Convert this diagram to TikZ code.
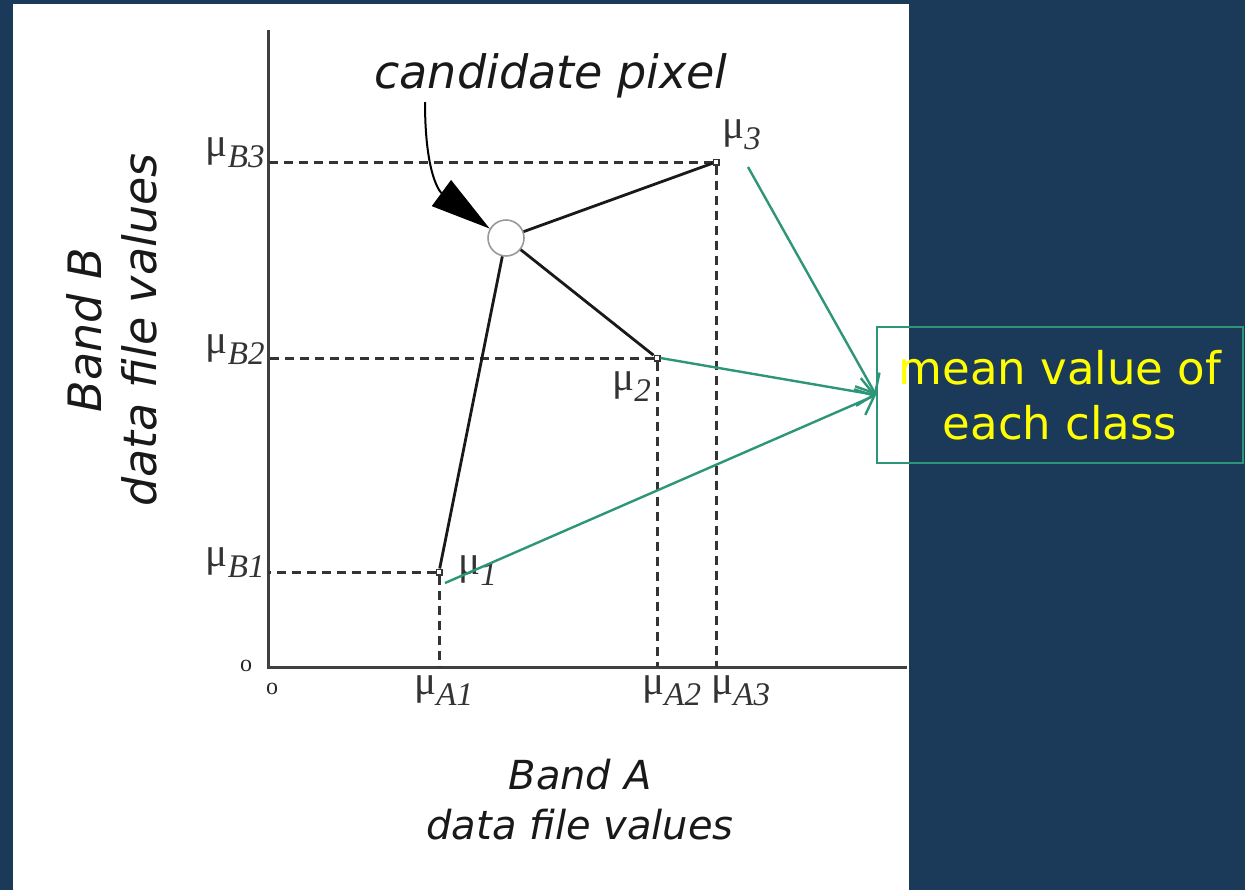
\documentclass[tikz,border=0pt]{standalone}
\usepackage{fontspec}
\setmainfont{Liberation Serif}
\setsansfont{DejaVu Sans}
\usetikzlibrary{arrows.meta}
\definecolor{navybg}{RGB}{27,58,90}
\definecolor{mgreen}{RGB}{46,150,120}
\definecolor{yellowtxt}{RGB}{255,255,0}
\newcommand{\mlab}[1]{{\fontsize{20.5}{22}\selectfont μ}\raisebox{-0.34em}{\itshape #1}}
\begin{document}
\begin{tikzpicture}[x=0.5pt,y=-0.5pt,
  axis/.style={line width=1.5pt, draw=black!75},
  guide/.style={line width=1.5pt, dash pattern=on 4.5pt off 3pt, draw=black!80},
  link/.style={line width=1.4pt, draw=black!90},
  pt/.style={draw=black!80, fill=white, inner sep=0pt, minimum size=2.8pt, line width=0.7pt},
  lab/.style={font=\fontsize{16.5}{18}\selectfont, inner sep=0pt, text=black!80},
  orig/.style={font=\fontsize{12}{14}\selectfont, inner sep=0pt, text=black!85},
  sflab/.style={font=\sffamily\itshape, text=black!90, align=center, inner sep=0pt},
  callout/.style={draw=mgreen, line width=1.2pt, -{Straight Barb[length=8pt,width=14pt,line width=1.2pt]}}]

\fill[navybg] (0,0) rectangle (1245,890);
\fill[white] (13,4) rectangle (909,890);

% axes
\coordinate (O) at (268,667);
\coordinate (Ytop) at (268,30);
\coordinate (Xend) at (907,667);
\draw[axis] (Ytop) -- (O) -- (Xend);
\node[orig] (o1) at (246,666) {o};
\node[orig] (o2) at (272,689) {o};

% class means
\node[pt] (p3) at (716,162) {};
\node[pt] (p2) at (657,358) {};
\node[pt] (p1) at (439,572) {};

% guide lines
\draw[guide] (p3.west) -- (p3.west -| O);
\draw[guide] (p3.south) -- (p3.south |- O);
\draw[guide] (p2.west) -- (p2.west -| O);
\draw[guide] (p2.south) -- (p2.south |- O);
\draw[guide] (p1.west) -- (p1.west -| O);
\draw[guide] (p1.south) -- (p1.south |- O);

% candidate pixel
\node[circle, draw=black!40, line width=0.8pt, minimum size=18pt, inner sep=0pt, fill=white] (cand) at (506,238) {};
\draw[link] (cand) -- (p3);
\draw[link] (cand) -- (p2);
\draw[link] (cand) -- (p1);

\node[sflab, font=\sffamily\itshape\fontsize{23}{27}\selectfont, anchor=base] (ctext) at (551,88) {candidate pixel};
\coordinate (cstart) at (425,102);
\draw[line width=1pt, -{Triangle[length=30pt,width=16pt]}] (cstart) .. controls (425,175) and (440,192) .. (cand.150);

% labels
\node[lab, anchor=base east] (lB3) at (265,156) {\mlab{B3}};
\node[lab, anchor=base east] (lB2) at (265,353) {\mlab{B2}};
\node[lab, anchor=base east] (lB1) at (265,566) {\mlab{B1}};
\node[lab, anchor=base west] (lA1) at (414,694) {\mlab{A1}};
\node[lab, anchor=base west] (lA2) at (642,694) {\mlab{A2}};
\node[lab, anchor=base west] (lA3) at (711,694) {\mlab{A3}};
\node[lab, anchor=base west] (l3) at (722,138) {\mlab{3}};
\node[lab, anchor=base west] (l2) at (612,390) {\mlab{2}};
\node[lab, anchor=base west] (l1) at (458,574) {\mlab{1}};

% axis titles
\node[sflab, font=\sffamily\itshape\fontsize{23}{27.5}\selectfont, rotate=90] (bandB) at (112,330) {Band B\\data file values};
\node[sflab, font=\sffamily\itshape\fontsize{20}{25}\selectfont] (bandA) at (580,800) {Band A\\data file values};

% callout
\node[draw=mgreen, line width=1pt, minimum width=183pt, minimum height=68pt, inner sep=0pt,
      text=yellowtxt, font=\sffamily\fontsize{22.5}{27.5}\selectfont, align=center] (box) at (1060,395) {mean value of\\each class};
\coordinate (g3) at (748,167);
\coordinate (g1) at (445,583);
\draw[callout] (g3) -- (box.west);
\draw[callout] (p2.east) -- (box.west);
\draw[callout] (g1) -- (box.west);
\end{tikzpicture}
\end{document}
